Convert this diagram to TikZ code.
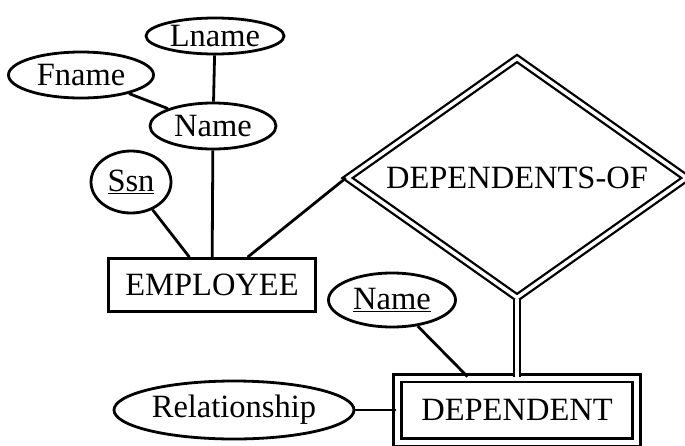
\documentclass[tikz,border=0pt]{standalone}
\usepackage{fontspec}
\setmainfont{Liberation Serif}
\usepackage{tikz}
\usetikzlibrary{shapes.geometric}
\tikzstyle{attribute} = [ellipse, draw=black, line width=2.8pt, inner sep=0pt, font=\fontsize{32.5}{36}\selectfont]
\tikzstyle{entity} = [rectangle, draw=black, line width=2.8pt, minimum width=207pt, minimum height=53pt, inner sep=0pt, font=\fontsize{32.5}{36}\selectfont]
\tikzstyle{weakentity} = [rectangle, draw=black, line width=2.8pt, double, double distance=5pt, minimum width=239pt, minimum height=64pt, inner sep=0pt, font=\fontsize{32.5}{36}\selectfont]
\tikzstyle{relation} = [diamond, aspect=1.4, draw=black, line width=2.3pt, double, double distance=3.5pt, minimum width=340pt, minimum height=240pt, inner sep=0pt, font=\fontsize{32.5}{36}\selectfont]
\tikzstyle{link} = [line width=2.8pt]
\tikzstyle{totallink} = [line width=2.3pt, double, double distance=4pt]

\begin{document}
\begin{tikzpicture}[x=1pt, y=-1pt]
        \useasboundingbox (0,0) rectangle (685,445);
        \node (lname) [attribute, minimum width=138pt, minimum height=36pt] at (215,36) {Lname};
        \node (fname) [attribute, minimum width=145pt, minimum height=46pt] at (81,75) {Fname};
        \node (name) [attribute, minimum width=126pt, minimum height=46pt] at (213,126) {Name};
        \node (ssn) [attribute, minimum width=80pt, minimum height=62pt] at (131,182) {\underline{Ssn}};
        \node (emp) [entity] at (212,285) {EMPLOYEE};
        \node (depof) [relation] at (517,178) {DEPENDENTS-OF};
        \node (dname) [attribute, minimum width=127pt, minimum height=54pt] at (392,300) {\underline{Name}};
        \node (dep) [weakentity] at (517,410) {DEPENDENT};
        \node (relship) [attribute, minimum width=240pt, minimum height=58pt] at (234,410) {Relationship};

        \draw [link] (lname) -- (name);
        \draw [link] (fname) -- (name);
        \draw [link] (name) -- (emp);
        \draw [link] (ssn) -- (emp.129);
        \draw [link] (emp.38) -- (depof.west);
        \draw [totallink] (depof.south) -- (dep.north);
        \draw [link] (dname) -- (dep.146);
        \draw [link] (relship) -- (dep);
    \end{tikzpicture}
\end{document}
